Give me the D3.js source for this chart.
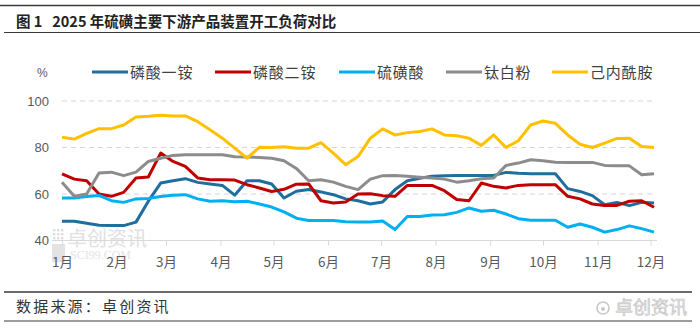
<!DOCTYPE html>
<html>
<head>
<meta charset="utf-8">
<script src="https://cdn.jsdelivr.net/npm/d3@7"></script>
<style>
  html, body { margin: 0; padding: 0; background: #fff; }
  svg { display: block; }
</style>
</head>
<body>
<svg id="chart" width="700" height="329"></svg>
<script>
// ---------- data ----------
const title = "图 1   2025 年硫磺主要下游产品装置开工负荷对比";
const source = "数据来源：卓创资讯";
const seriesNames = ["磷酸一铵", "磷酸二铵", "硫磺酸", "钛白粉", "己内酰胺"];
const seriesColors = ["#1f6e9e", "#c00000", "#00b0f0", "#8c8c8c", "#ffc000"];
const dates = [
  "2025-01-01","2025-01-08","2025-01-15","2025-01-22","2025-01-29",
  "2025-02-05","2025-02-12","2025-02-19","2025-02-26",
  "2025-03-05","2025-03-12","2025-03-19","2025-03-26",
  "2025-04-02","2025-04-09","2025-04-16","2025-04-23","2025-04-30",
  "2025-05-07","2025-05-14","2025-05-21","2025-05-28",
  "2025-06-04","2025-06-11","2025-06-18","2025-06-25",
  "2025-07-02","2025-07-09","2025-07-16","2025-07-23","2025-07-30",
  "2025-08-06","2025-08-13","2025-08-20","2025-08-27",
  "2025-09-03","2025-09-10","2025-09-17","2025-09-24",
  "2025-10-01","2025-10-08","2025-10-15","2025-10-22","2025-10-29",
  "2025-11-05","2025-11-12","2025-11-19","2025-11-26",
  "2025-12-03"
];
const map = [48.3,48.3,47.4,46.6,46.4,46.4,47.9,56.9,64.7,65.7,66.6,65,64.3,63.7,59.5,65.7,65.7,64.3,58.3,61.2,61.9,60.9,59.7,57.9,57.1,55.7,56.6,61.9,65.7,66.8,67.6,67.9,68,68,68,68,69.3,68.9,68.7,68.7,68.7,62.3,61.1,59.3,55.4,56.4,55,56.4,56.1];
const dap = [68.7,66.4,65.7,60,59,60.7,66.9,67.3,77.6,74,71.9,66.9,66.1,66.1,66,64,62.6,61.1,62,64.2,64.3,57.1,56.1,56.6,60,60.1,59.3,59,63.7,63.7,63.7,61.4,57.6,57.1,64.7,63.3,62.6,63.7,64,64,64,59,57.9,55.7,55.1,55.1,56.9,57.1,54.3];
const sulfuricAcid = [58.3,58.3,58.9,59.4,57.1,56.4,57.9,58.1,58.9,59.5,59.7,57.9,56.9,57.1,56.7,56.9,55.7,54.4,52.3,49.6,48.6,48.6,48.6,48.1,48,48,48.4,44.7,50.3,50.3,51,51.1,52.1,54,52.6,53,51.4,49.4,48.7,48.7,48.7,45.7,47.1,45.7,43.6,44.7,46.3,45.1,43.6];
const titanium = [65.1,59,60,69,69.4,67.9,69.4,74,75.4,76.6,76.9,76.9,76.9,76.9,76,75.9,75.7,75.4,74.3,71,65.7,66.1,65.1,63.3,61.9,66.4,67.9,68,67.6,67.2,66.9,66.4,65.1,65.7,66.6,66.9,72.3,73.3,74.7,74.3,73.7,73.6,73.6,73.6,72.3,72.1,72.1,68.3,68.7];
const caprolactam = [84.4,83.6,86.1,88.1,88.1,89.7,93.1,93.4,93.9,93.6,93.6,91.1,87.6,84,79.7,75.4,80.1,80,80.3,79.7,79.7,82.1,77.6,72.6,76.1,84,88,85.4,86.4,86.9,88,85.4,85.1,84,80.9,85.4,80,82.9,89.7,91.4,90.4,85.4,81.4,80,81.9,83.9,84,80.4,80];
const yTicks = [40, 60, 80, 100];
const monthTicks = ["2025-01-01","2025-02-01","2025-03-01","2025-04-01","2025-05-01","2025-06-01","2025-07-01","2025-08-01","2025-09-01","2025-10-01","2025-11-01","2025-12-01"];
const monthLabels = ["1月","2月","3月","4月","5月","6月","7月","8月","9月","10月","11月","12月"];

// ---------- chart ----------
const svg = d3.select("#chart");
const parse = d3.utcParse("%Y-%m-%d");
const dateVals = dates.map(parse);
const allSeries = [map, dap, sulfuricAcid, titanium, caprolactam];

const x = d3.scaleUtc()
  .domain([parse("2025-01-01"), parse("2025-12-01")])
  .range([62, 650.5]);
const y = d3.scaleLinear().domain([40, 100]).range([240.5, 101]);

const font = "'Noto Sans CJK SC', 'Noto Sans', sans-serif";

// top rules + title
svg.append("line").attr("x1", 0).attr("x2", 700).attr("y1", 5.5).attr("y2", 5.5)
  .attr("stroke", "#3a3a3a").attr("stroke-width", 1.6);
svg.append("line").attr("x1", 4).attr("x2", 700).attr("y1", 32.5).attr("y2", 32.5)
  .attr("stroke", "#3a3a3a").attr("stroke-width", 1.2);
svg.append("text").attr("x", 16).attr("y", 27)
  .attr("font-family", font).attr("font-weight", 700).attr("font-size", 14.5)
  .attr("fill", "#222").attr("xml:space", "preserve")
  .text(title);

// watermark in plot (behind)
const wm = svg.append("g").attr("opacity", 0.5);
const logo = wm.append("g");
for (let r = 0; r < 3; r++) for (let c = 0; c < 3; c++) {
  logo.append("rect").attr("x", 53 + c * 4).attr("y", 229 + r * 4).attr("width", 2.4).attr("height", 2.4).attr("fill", "#bdbdbd");
}
logo.append("rect").attr("x", 52).attr("y", 244).attr("width", 13).attr("height", 18).attr("fill", "#c8c8c8");
wm.append("text").attr("x", 67).attr("y", 246).attr("font-family", font).attr("font-size", 20)
  .attr("fill", "#c4c4c4").text("卓创资讯");
wm.append("text").attr("x", 70).attr("y", 259).attr("font-family", "'Liberation Serif', serif").attr("font-size", 12)
  .attr("fill", "#c8c8c8").text("SCI99.COM");

// gridlines
svg.append("g").selectAll("line").data(yTicks.filter(d => d > 40)).join("line")
  .attr("x1", 62).attr("x2", 656)
  .attr("y1", d => y(d)).attr("y2", d => y(d))
  .attr("stroke", "#d6d6d6").attr("stroke-width", 1).attr("stroke-dasharray", "5,4");

// x axis
const xAxis = d3.axisBottom(x)
  .tickValues(monthTicks.map(parse))
  .tickFormat((d, i) => monthLabels[i])
  .tickSize(5).tickPadding(12);
const gx = svg.append("g").attr("transform", `translate(0,${y(40)})`).call(xAxis);
gx.select(".domain").remove();
gx.insert("line", ":first-child").attr("x1", 52).attr("x2", 657).attr("y1", 0).attr("y2", 0)
  .attr("stroke", "#d9d9d9").attr("stroke-width", 1);
gx.selectAll(".tick line").attr("stroke", "#d9d9d9");
gx.selectAll(".tick text").attr("font-family", font).attr("font-size", 13.5).attr("fill", "#595959");

// y axis labels
const yAxis = d3.axisLeft(y).tickValues(yTicks).tickSize(0).tickPadding(0);
const gy = svg.append("g").attr("transform", "translate(49,0)").call(yAxis);
gy.select(".domain").remove();
gy.selectAll(".tick text").attr("font-family", "'Liberation Sans', Arial, sans-serif").attr("font-size", 13).attr("fill", "#595959");

// lines
const line = d3.line().x((d, i) => x(dateVals[i])).y(d => y(d));
svg.append("g").selectAll("path").data(allSeries).join("path")
  .attr("d", d => line(d))
  .attr("fill", "none")
  .attr("stroke", (d, i) => seriesColors[i])
  .attr("stroke-width", 3)
  .attr("stroke-linejoin", "round");

// legend
svg.append("text").attr("x", 37).attr("y", 77).attr("font-family", "'Liberation Sans', Arial, sans-serif")
  .attr("font-size", 12).attr("fill", "#595959").text("%");
const legendX = [92, 215, 339, 446, 552];
const lg = svg.append("g").selectAll("g").data(seriesNames).join("g")
  .attr("transform", (d, i) => `translate(${legendX[i]},72)`);
lg.append("line").attr("x1", 0).attr("x2", 36).attr("y1", 0).attr("y2", 0)
  .attr("stroke", (d, i) => seriesColors[i]).attr("stroke-width", 3.2);
lg.append("text").attr("x", 38).attr("y", 5.5)
  .attr("font-family", font).attr("font-size", 15).attr("fill", "#404040")
  .attr("letter-spacing", 0.8)
  .text(d => d);

// bottom rules + source
svg.append("line").attr("x1", 4).attr("x2", 692).attr("y1", 292).attr("y2", 292)
  .attr("stroke", "#3a3a3a").attr("stroke-width", 1.4);
svg.append("line").attr("x1", 4).attr("x2", 692).attr("y1", 321).attr("y2", 321)
  .attr("stroke", "#3a3a3a").attr("stroke-width", 1.2);
svg.append("text").attr("x", 16).attr("y", 312)
  .attr("font-family", font).attr("font-size", 15).attr("fill", "#333")
  .attr("letter-spacing", 2.2).text(source);

// bottom-right watermark
const wm2 = svg.append("g");
wm2.append("circle").attr("cx", 603).attr("cy", 308).attr("r", 6).attr("fill", "none").attr("stroke", "#c8c8c8").attr("stroke-width", 1.6);
wm2.append("circle").attr("cx", 603).attr("cy", 309).attr("r", 2).attr("fill", "#c8c8c8");
wm2.append("text").attr("x", 615).attr("y", 314).attr("font-family", font).attr("font-size", 18)
  .attr("fill", "#e6e6e6").attr("stroke", "#c2c2c2").attr("stroke-width", 0.6).text("卓创资讯");
</script>
</body>
</html>
